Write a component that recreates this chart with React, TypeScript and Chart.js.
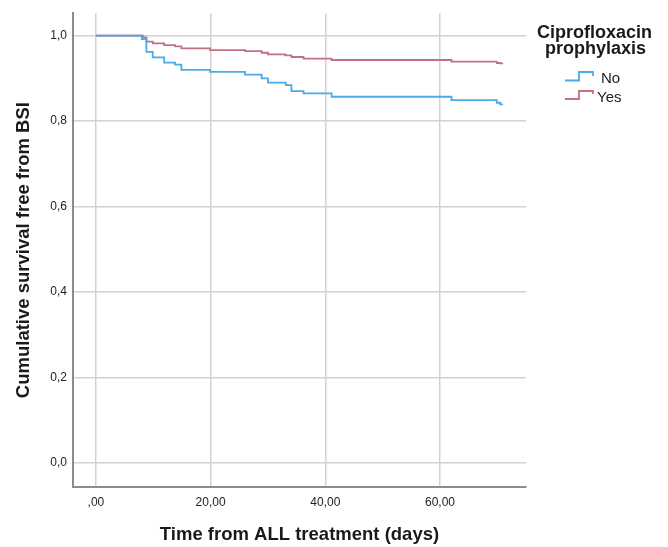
import React, { useEffect, useRef } from "react";
import { Chart, registerables } from "chart.js";

Chart.register(...registerables);

// Kaplan-Meier step data
const noTimes = [0, 8.0, 8.8, 9.9, 11.9, 13.8, 14.9, 19.9, 26.0, 28.9, 30.0, 33.1, 34.1, 36.2, 41.1, 62.0, 69.9, 70.5, 71.0];
const noSurvival = [1.0, 0.992, 0.962, 0.949, 0.937, 0.932, 0.92, 0.915, 0.909, 0.9, 0.89, 0.884, 0.87, 0.865, 0.857, 0.849, 0.843, 0.839, 0.839];
const yesTimes = [0, 8.2, 8.8, 9.9, 11.9, 13.8, 14.9, 19.9, 26.0, 28.9, 30.0, 33.0, 34.1, 36.2, 41.1, 62.0, 69.9, 70.5, 71.0];
const yesSurvival = [1.0, 0.996, 0.986, 0.982, 0.978, 0.975, 0.97, 0.966, 0.964, 0.96, 0.956, 0.954, 0.95, 0.946, 0.943, 0.939, 0.936, 0.935, 0.935];

const seriesNames = ["No", "Yes"];
const seriesColors = ["#4aaaea", "#c2717f"];
const legendTitle = ["Ciprofloxacin", "prophylaxis"];

const xTickValues = [0, 20, 40, 60];
const xTickLabels = [",00", "20,00", "40,00", "60,00"];
const yTickValues = [0, 0.2, 0.4, 0.6, 0.8, 1.0];
const yTickLabels = ["0,0", "0,2", "0,4", "0,6", "0,8", "1,0"];

const xTitle = "Time from ALL treatment (days)";
const yTitle = "Cumulative survival free from BSI";

const FONT = "'Liberation Sans', Arial, sans-serif";

const legendPlugin = {
  id: "kmLegend",
  afterDraw(chart: any) {
    const ctx = chart.ctx as CanvasRenderingContext2D;
    ctx.save();
    ctx.fillStyle = "#1a1a1a";
    ctx.font = `bold 18px ${FONT}`;
    ctx.textAlign = "center";
    ctx.textBaseline = "alphabetic";
    ctx.fillText(legendTitle[0], 594.5, 37.5);
    ctx.fillText(legendTitle[1], 595.5, 54);
    const rows = [
      { y: 80.5, hy: 72, ey: 76, tx: 601, ty: 79 },
      { y: 99, hy: 91, ey: 94, tx: 597, ty: 97.5 },
    ];
    rows.forEach((r, i) => {
      ctx.strokeStyle = seriesColors[i];
      ctx.lineWidth = 1.8;
      ctx.beginPath();
      ctx.moveTo(565, r.y);
      ctx.lineTo(579, r.y);
      ctx.lineTo(579, r.hy);
      ctx.lineTo(593, r.hy);
      ctx.lineTo(593, r.ey);
      ctx.stroke();
      ctx.fillStyle = "#222";
      ctx.font = `15px ${FONT}`;
      ctx.textAlign = "left";
      ctx.textBaseline = "middle";
      ctx.fillText(seriesNames[i], r.tx, r.ty);
    });
    ctx.restore();
  },
};

export default function App() {
  const ref = useRef<HTMLCanvasElement | null>(null);
  useEffect(() => {
    if (!ref.current) return;
    const chart = new Chart(ref.current, {
      type: "line",
      data: {
        datasets: [
          {
            label: seriesNames[0],
            data: noTimes.map((t, i) => ({ x: t, y: noSurvival[i] })),
            borderColor: seriesColors[0],
            borderWidth: 1.8,
            stepped: "before",
            pointRadius: 0,
            fill: false,
          },
          {
            label: seriesNames[1],
            data: yesTimes.map((t, i) => ({ x: t, y: yesSurvival[i] })),
            borderColor: seriesColors[1],
            borderWidth: 1.8,
            stepped: "before",
            pointRadius: 0,
            fill: false,
          },
        ],
      },
      options: {
        animation: false,
        responsive: false,
        devicePixelRatio: 1,
        layout: { padding: { top: 12, right: 142, left: 0, bottom: 0 } },
        plugins: { legend: { display: false }, tooltip: { enabled: false } },
        scales: {
          x: {
            type: "linear",
            min: -4,
            max: 75,
            afterBuildTicks: (scale: any) => {
              scale.ticks = xTickValues.map((v) => ({ value: v }));
            },
            afterFit: (scale: any) => {
              scale.height = 60;
            },
            ticks: {
              callback: (v: any) => xTickLabels[xTickValues.indexOf(Number(v))] ?? "",
              font: { family: FONT, size: 12 },
              color: "#222",
              padding: 8,
              maxRotation: 0,
            },
            grid: { color: "#d2d2d2", lineWidth: 1.5, drawTicks: false },
            border: { display: true, color: "#8c8c8c", width: 2 },
            title: {
              display: true,
              text: xTitle,
              font: { family: FONT, size: 18.5, weight: "bold" },
              color: "#1a1a1a",
              padding: { top: 0, bottom: 1 },
            },
          },
          y: {
            type: "linear",
            min: -0.056,
            max: 1.0525,
            afterBuildTicks: (scale: any) => {
              scale.ticks = yTickValues.map((v) => ({ value: v }));
            },
            afterFit: (scale: any) => {
              scale.width = 73;
            },
            ticks: {
              callback: (v: any) => {
                const idx = yTickValues.findIndex((t) => Math.abs(t - Number(v)) < 1e-6);
                return idx >= 0 ? yTickLabels[idx] : "";
              },
              font: { family: FONT, size: 12 },
              color: "#222",
              padding: 6,
            },
            grid: { color: "#d2d2d2", lineWidth: 1.5, drawTicks: false },
            border: { display: true, color: "#8c8c8c", width: 2 },
            title: {
              display: true,
              text: yTitle,
              font: { family: FONT, size: 18.5, weight: "bold" },
              color: "#1a1a1a",
              padding: { top: 13, bottom: 0 },
            },
          },
        },
      },
      plugins: [legendPlugin],
    } as any);
    return () => chart.destroy();
  }, []);
  return (
    <div style={{ position: "absolute", left: 0, top: 0, width: 668, height: 547, background: "#fff" }}>
      <canvas ref={ref} width={668} height={547} style={{ display: "block", width: 668, height: 547 }} />
    </div>
  );
}
